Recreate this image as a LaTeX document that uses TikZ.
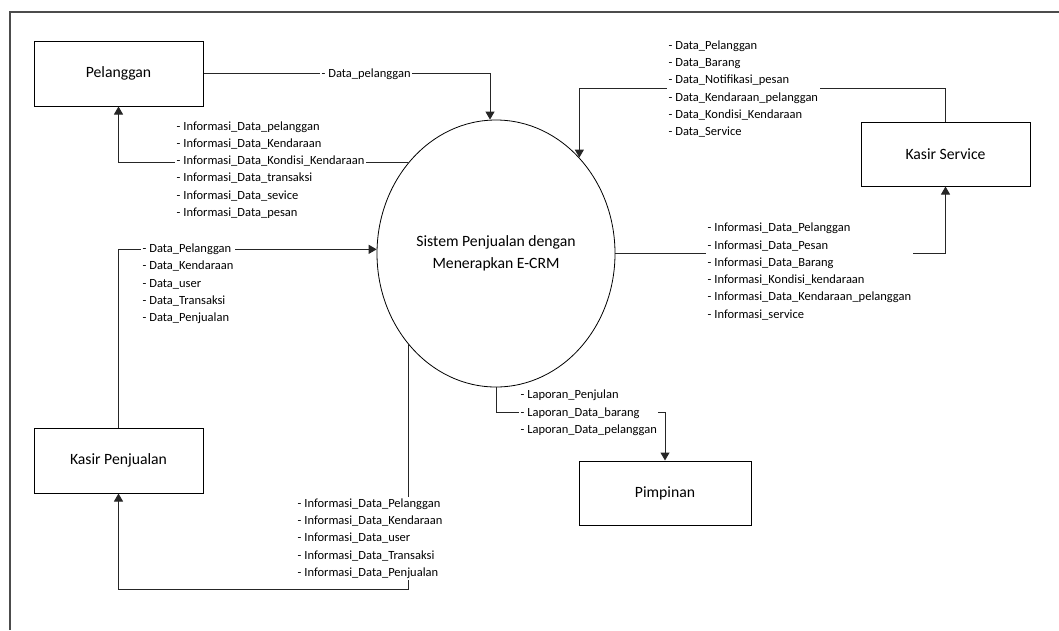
\documentclass[tikz,border=0pt]{standalone}
\usepackage{fontspec}
\setmainfont{Carlito}
\usetikzlibrary{arrows.meta,shapes.geometric}

\tikzset{
  entity/.style={draw=black, line width=1pt, rectangle, minimum width=169pt,
    minimum height=65pt, inner sep=0pt, font=\fontsize{15.7}{22}\selectfont},
  process/.style={draw=black, line width=0.8pt, ellipse, minimum width=238pt,
    minimum height=267pt, inner sep=0pt, align=center,
    font=\fontsize{15.7}{22}\selectfont},
  flow/.style={draw=black!85, line width=1pt,
    -{Triangle[length=8pt,width=9pt]}},
  flowlabel/.style={fill=white, inner sep=1.5pt, anchor=west, align=left,
    font=\fontsize{12.5}{17.3}\selectfont},
}

\begin{document}
\begin{tikzpicture}[x=1pt, y=-1pt]
  \useasboundingbox (0,0) rectangle (1059,630);

  % page frame (top and left edges)
  \draw[draw=black!70, line width=1.4pt] (10,630) -- (10,12) -- (1059,12);

  % external entities and the process
  \node[entity] (pel) at (118.5,73.5) {Pelanggan};
  \node[entity, minimum height=64pt] (ks) at (945.5,154) {Kasir Service};
  \node[entity] (kp) at (118.5,460.5) {Kasir Penjualan};
  \node[entity, minimum width=172pt, minimum height=64pt] (pim) at (665,493) {Pimpinan};
  \node[process] (sys) at (496,253.5) {Sistem Penjualan dengan\\Menerapkan E-CRM};

  % data flows
  \draw[flow] (pel.east) -| ([xshift=-6pt]sys.north);
  \draw[flow] (sys.134) -| (pel.south);
  \draw[flow] (ks.north) -- ++(0,-33) -| (sys.49);
  \draw[flow] (kp.north) |- (sys.178);
  \draw[flow] (sys.226) |- ([yshift=-96pt]kp.south) -- (kp.south);
  \draw[flow] (sys.east) -| (ks.south);
  \draw[flow] (sys.south) -- ++(0,25) -| (pim.north);

  % flow labels
  \node[flowlabel] (l1) at (320,74) {- Data\_pelanggan};
  \node[flowlabel] (l2) at (175,170) {- Informasi\_Data\_pelanggan\\- Informasi\_Data\_Kendaraan\\- Informasi\_Data\_Kondisi\_Kendaraan\\- Informasi\_Data\_transaksi\\- Informasi\_Data\_sevice\\- Informasi\_Data\_pesan};
  \node[flowlabel] (l3) at (667,89) {- Data\_Pelanggan\\- Data\_Barang\\- Data\_Notifikasi\_pesan\\- Data\_Kendaraan\_pelanggan\\- Data\_Kondisi\_Kendaraan\\- Data\_Service};
  \node[flowlabel] (l4) at (141,284) {- Data\_Pelanggan\\- Data\_Kendaraan\\- Data\_user\\- Data\_Transaksi\\- Data\_Penjualan};
  \node[flowlabel] (l5) at (296,538.5) {- Informasi\_Data\_Pelanggan\\- Informasi\_Data\_Kendaraan\\- Informasi\_Data\_user\\- Informasi\_Data\_Transaksi\\- Informasi\_Data\_Penjualan};
  \node[flowlabel] (l6) at (706,271.5) {- Informasi\_Data\_Pelanggan\\- Informasi\_Data\_Pesan\\- Informasi\_Data\_Barang\\- Informasi\_Kondisi\_kendaraan\\- Informasi\_Data\_Kendaraan\_pelanggan\\- Informasi\_service};
  \node[flowlabel] (l7) at (519,413) {- Laporan\_Penjulan\\- Laporan\_Data\_barang\\- Laporan\_Data\_pelanggan};
\end{tikzpicture}
\end{document}
